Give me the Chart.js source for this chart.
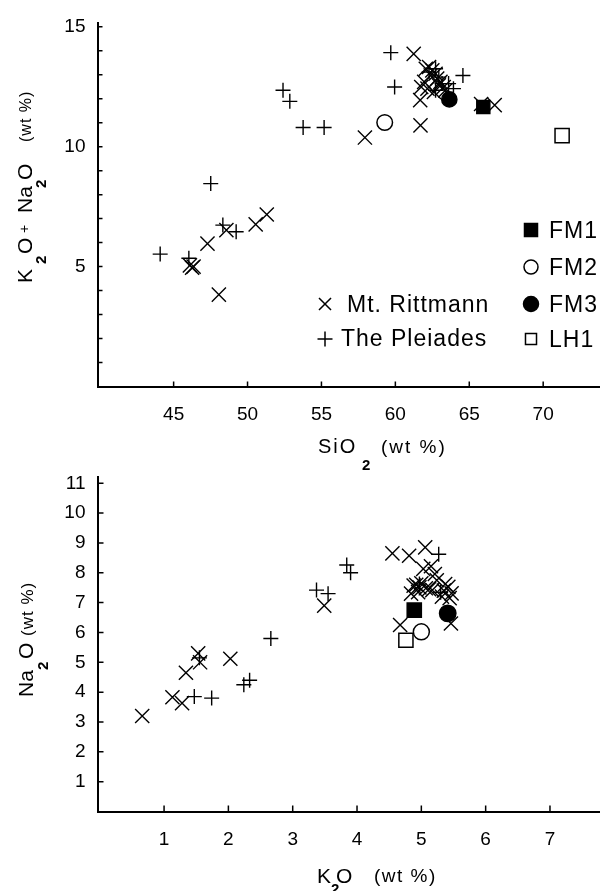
<!DOCTYPE html>
<html>
<head>
<meta charset="utf-8">
<script src="https://cdn.jsdelivr.net/npm/chart.js@4/dist/chart.umd.min.js"></script>
<style>
  html, body { margin:0; padding:0; background:#fff; width:611px; height:891px; overflow:hidden; }
  body { position:relative; font-family:"Liberation Sans", Arial, sans-serif; color:#000; }
  canvas { position:absolute; left:0; display:block; }
  #c1 { top:0; }
  #c2 { top:440px; }
  .t { position:absolute; white-space:pre; line-height:1; }
  .main { font-size:21px; }
  .sub { font-size:15px; font-weight:bold; }
  .unit { font-size:17px; letter-spacing:1px; }
  .rot { position:absolute; left:0; width:220px; height:50px; transform-origin:0 0; transform:rotate(-90deg); }
  .leg { font-size:23px; letter-spacing:1px; }
</style>
</head>
<body>
<canvas id="c1" width="611" height="440"></canvas>
<canvas id="c2" width="611" height="451"></canvas>

<!-- top panel axis titles -->
<div class="rot" style="top:284px">
  <span class="t main" style="left:1px;top:14px">K</span>
  <span class="t sub" style="left:20px;top:33px">2</span>
  <span class="t main" style="left:30px;top:14px">O</span>
  <span class="t" style="left:51px;top:17px;font-size:14px">+</span>
  <span class="t main" style="left:71px;top:14px">Na</span>
  <span class="t sub" style="left:96px;top:33px">2</span>
  <span class="t main" style="left:104px;top:14px">O</span>
  <span class="t unit" style="left:142px;top:18px;font-size:16px">(wt %)</span>
</div>
<span class="t" style="left:318px;top:436px;font-size:20px;letter-spacing:2px">SiO</span>
<span class="t sub" style="left:362px;top:457px">2</span>
<span class="t" style="left:381px;top:437px;font-size:19px;letter-spacing:2px">(wt %)</span>

<!-- legend text -->
<span class="t leg" style="left:347px;top:293px">Mt. Rittmann</span>
<span class="t leg" style="left:341px;top:327px">The Pleiades</span>
<span class="t leg" style="left:549px;top:219px">FM1</span>
<span class="t leg" style="left:549px;top:256px">FM2</span>
<span class="t leg" style="left:549px;top:293px">FM3</span>
<span class="t leg" style="left:549px;top:328px">LH1</span>

<!-- bottom panel axis titles -->
<div class="rot" style="top:697px">
  <span class="t main" style="left:0px;top:15px">Na</span>
  <span class="t sub" style="left:27px;top:35px">2</span>
  <span class="t main" style="left:38px;top:15px">O</span>
  <span class="t unit" style="left:61px;top:19px">(wt %)</span>
</div>
<span class="t main" style="left:317px;top:865px">K</span>
<span class="t sub" style="left:331px;top:881px">2</span>
<span class="t main" style="left:336px;top:865px">O</span>
<span class="t" style="left:374px;top:866px;font-size:19px;letter-spacing:1.5px">(wt %)</span>

<script>
// ---------------- DATA ----------------
// Top panel: SiO2 (wt %) vs K2O + Na2O (wt %)
const rittSiO2 = [46.10, 46.25, 46.35, 47.29, 48.06, 48.57, 50.55, 51.30, 57.94, 61.24, 61.70, 61.68, 61.75,
                  62.06, 62.28, 62.50, 62.72, 62.39, 62.83, 63.05, 63.27, 63.38, 61.95, 62.17, 62.61, 62.94, 65.80, 66.72];
const rittAlk  = [5.05, 4.95, 5.00, 5.96, 3.83, 6.52, 6.76, 7.17, 10.38, 13.87, 10.89, 11.94, 12.49,
                  13.25, 13.32, 13.18, 13.04, 12.97, 12.84, 12.70, 12.49, 12.35, 12.70, 12.42, 12.28, 12.56, 11.78, 11.73];
const pleiSiO2 = [44.09, 46.03, 47.51, 48.33, 49.23, 52.40, 52.86, 53.76, 55.18, 59.69, 59.95, 64.57,
                  62.28, 62.72, 62.94, 63.16, 63.60, 63.93, 62.72];
const pleiAlk  = [5.52, 5.35, 8.46, 6.73, 6.45, 12.35, 11.89, 10.80, 10.80, 13.92, 12.49, 12.97,
                  13.11, 13.25, 12.90, 12.63, 12.63, 12.42, 12.35];
const sampleNames = ['FM1', 'FM2', 'FM3', 'LH1'];
const sampleSiO2  = [65.95, 59.28, 63.65, 71.28];
const sampleAlk   = [11.65, 11.01, 11.97, 10.46];

// Bottom panel: K2O (wt %) vs Na2O (wt %)
const rittK2O  = [0.66, 1.13, 1.28, 1.34, 1.53, 1.56, 2.03, 3.49, 4.55, 4.81, 5.06, 4.67, 5.46,
                  4.88, 4.97, 4.84, 4.92, 5.03, 5.15, 5.07, 5.17, 5.21, 5.24, 5.32, 5.35, 5.42, 5.47, 5.44, 5.37, 5.12, 4.95, 5.00];
const rittNa2O = [3.20, 3.83, 3.63, 4.65, 5.30, 5.00, 5.12, 6.90, 8.65, 8.57, 8.85, 6.25, 6.30,
                  7.57, 7.51, 7.30, 7.60, 8.13, 8.22, 7.48, 7.42, 7.96, 7.75, 7.20, 7.40, 7.53, 7.31, 7.15, 7.62, 7.45, 7.35, 7.65];
const pleiK2O  = [1.47, 1.74, 1.55, 2.24, 2.33, 2.66, 3.37, 3.55, 3.84, 3.90, 5.27, 5.30, 4.97];
const pleiNa2O = [3.85, 3.80, 5.15, 4.25, 4.40, 5.80, 7.42, 7.30, 8.26, 8.00, 8.62, 7.35, 7.62];
const sampleK2O  = [4.89, 5.00, 5.41, 4.76];
const sampleNa2O = [6.75, 6.02, 6.64, 5.74];

// Ticks
const topXTicks    = [45, 50, 55, 60, 65, 70];
const topYTicks    = [1, 2, 3, 4, 5, 6, 7, 8, 9, 10, 11, 12, 13, 14, 15];
const topYLabels   = [5, 10, 15];
const botXTicks    = [1, 2, 3, 4, 5, 6, 7];
const botYTicks    = [1, 2, 3, 4, 5, 6, 7, 8, 9, 10, 11];

// ---------------- HELPERS ----------------
const FONT = '"Liberation Sans", Arial, sans-serif';
const zip = (xs, ys) => xs.map((x, i) => ({x: x, y: ys[i]}));

const sampleStyle = {
  FM1: {pointStyle: 'rect',   bg: '#000', r: [9.2, 10]},
  FM2: {pointStyle: 'circle', bg: '#fff', r: [7.8, 8]},
  FM3: {pointStyle: 'circle', bg: '#000', r: [7.6, 8.2]},
  LH1: {pointStyle: 'rect',   bg: '#fff', r: [10, 10]}
};

function buildDatasets(rx, ry, px, py, sx, sy, panel) {
  const ds = sampleNames.map((n, i) => ({
    label: n,
    data: [{x: sx[i], y: sy[i]}],
    pointStyle: sampleStyle[n].pointStyle,
    pointRadius: sampleStyle[n].r[panel],
    backgroundColor: sampleStyle[n].bg,
    borderColor: '#000',
    borderWidth: 1.5,
    clip: false
  }));
  ds.push({label: 'Mt. Rittmann', data: zip(rx, ry), pointStyle: 'crossRot', pointRadius: 10,
           borderColor: '#000', backgroundColor: '#000', borderWidth: 1.4, clip: false});
  ds.push({label: 'The Pleiades', data: zip(px, py), pointStyle: 'cross', pointRadius: 7.5,
           borderColor: '#000', backgroundColor: '#000', borderWidth: 1.4, clip: false});
  return ds;
}

// Inward tick marks drawn from the scales' ticks
const inwardTicks = {
  id: 'inwardTicks',
  afterDraw(chart, args, opts) {
    const {ctx, chartArea: a, scales} = chart;
    ctx.save();
    ctx.strokeStyle = '#000';
    ctx.lineWidth = 1.5;
    ctx.beginPath();
    scales.x.ticks.forEach(t => {
      const p = scales.x.getPixelForValue(t.value);
      ctx.moveTo(p, a.bottom); ctx.lineTo(p, a.bottom - opts.len);
    });
    scales.y.ticks.forEach(t => {
      const p = scales.y.getPixelForValue(t.value);
      ctx.moveTo(a.left, p); ctx.lineTo(a.left + opts.len, p);
    });
    ctx.stroke();
    ctx.restore();
  }
};

// Legend symbols (drawn in the top panel, styled like the datasets)
function drawMark(ctx, style, x, y, r, fill) {
  ctx.save();
  ctx.strokeStyle = '#000'; ctx.fillStyle = fill; ctx.lineWidth = 1.5;
  ctx.beginPath();
  if (style === 'crossRot') {
    const d = r * Math.SQRT1_2;
    ctx.moveTo(x - d, y - d); ctx.lineTo(x + d, y + d);
    ctx.moveTo(x + d, y - d); ctx.lineTo(x - d, y + d);
    ctx.stroke();
  } else if (style === 'cross') {
    ctx.moveTo(x - r, y); ctx.lineTo(x + r, y);
    ctx.moveTo(x, y - r); ctx.lineTo(x, y + r);
    ctx.stroke();
  } else if (style === 'rect') {
    const s = r * Math.SQRT1_2;
    ctx.rect(x - s, y - s, 2 * s, 2 * s); ctx.fill(); ctx.stroke();
  } else {
    ctx.arc(x, y, r, 0, Math.PI * 2); ctx.fill(); ctx.stroke();
  }
  ctx.restore();
}
const legendMarks = {
  id: 'legendMarks',
  afterDraw(chart, args, opts) {
    const ctx = chart.ctx;
    opts.items.forEach(it => {
      const ds = chart.data.datasets.find(d => d.label === it.label);
      drawMark(ctx, ds.pointStyle, it.x, it.y, it.r, ds.backgroundColor);
    });
  }
};

function axis(min, max, fixed, tickVals, labelFn, padding) {
  return {
    type: 'linear', min: min, max: max, bounds: 'data',
    afterFit: fixed,
    afterBuildTicks: s => { s.ticks = tickVals.map(v => ({value: v})); },
    grid: {display: false, drawTicks: false},
    border: {display: true, color: '#000', width: 2},
    ticks: {
      autoSkip: false, maxRotation: 0, minRotation: 0, padding: padding,
      color: '#000', font: {family: FONT, size: 19},
      callback: labelFn
    }
  };
}

// ---------------- TOP PANEL ----------------
new Chart(document.getElementById('c1'), {
  type: 'scatter',
  data: {datasets: buildDatasets(rittSiO2, rittAlk, pleiSiO2, pleiAlk, sampleSiO2, sampleAlk, 0)},
  options: {
    responsive: false, animation: false, devicePixelRatio: 1,
    layout: {padding: {top: 21, right: 0, bottom: 0, left: 0}},
    plugins: {
      legend: {display: false}, tooltip: {enabled: false},
      inwardTicks: {len: 5},
      legendMarks: {items: [
        {label: 'Mt. Rittmann', x: 325, y: 304, r: 8.5},
        {label: 'The Pleiades', x: 325, y: 339, r: 7.5},
        {label: 'FM1', x: 531, y: 230, r: 9.2},
        {label: 'FM2', x: 531, y: 267, r: 7},
        {label: 'FM3', x: 531, y: 304, r: 7.5},
        {label: 'LH1', x: 531, y: 339, r: 7.8}
      ]}
    },
    scales: {
      x: axis(39.85, 73.81, s => { s.height = 53.5; }, topXTicks, v => String(v), 17),
      y: axis(0, 15.14, s => { s.width = 97.5; }, topYTicks,
              v => topYLabels.includes(v) ? String(v) : '', 12)
    }
  },
  plugins: [inwardTicks, legendMarks]
});

// ---------------- BOTTOM PANEL ----------------
new Chart(document.getElementById('c2'), {
  type: 'scatter',
  data: {datasets: buildDatasets(rittK2O, rittNa2O, pleiK2O, pleiNa2O, sampleK2O, sampleNa2O, 1)},
  options: {
    responsive: false, animation: false, devicePixelRatio: 1,
    layout: {padding: {top: 37, right: 0, bottom: 0, left: 0}},
    plugins: {legend: {display: false}, tooltip: {enabled: false}, inwardTicks: {len: 6}},
    scales: {
      x: axis(-0.035, 7.77, s => { s.height = 79.5; }, botXTicks, v => String(v), 17),
      y: axis(0, 11.21, s => { s.width = 97.5; }, botYTicks, v => String(v), 12)
    }
  },
  plugins: [inwardTicks]
});
</script>
</body>
</html>
